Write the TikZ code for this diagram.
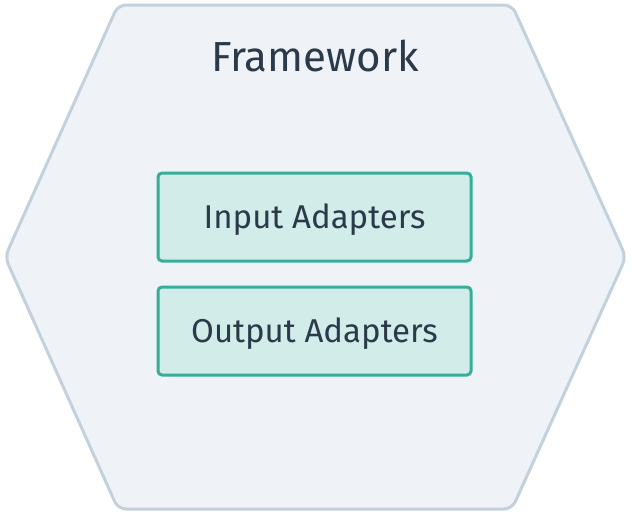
\documentclass[tikz,border=0pt]{standalone}
\usepackage{fontspec}
\setmainfont{Fira Sans}
\definecolor{hexfill}{HTML}{EFF3F7}
\definecolor{hexline}{HTML}{C3D1DC}
\definecolor{boxfill}{HTML}{D1ECE9}
\definecolor{boxline}{HTML}{37AE98}
\definecolor{ink}{HTML}{2B3A4A}
\tikzset{
  hexagon/.style={draw=hexline, fill=hexfill, line width=3pt, rounded corners=8pt, line join=round},
  adapter/.style={draw=boxline, fill=boxfill, line width=3pt, rounded corners=4pt,
    minimum width=313pt, minimum height=88pt, inner sep=0pt, text=ink,
    text height=23pt, text depth=0pt,
    font=\fontsize{33}{38}\selectfont},
  title/.style={text=ink, font=\fontsize{42}{48}\selectfont, inner sep=0pt,
    text height=29pt, text depth=0pt}
}
\begin{document}
\begin{tikzpicture}[x=1pt,y=-1pt]
  \useasboundingbox (0,0) rectangle (632,515);
  % outer framework hexagon
  \draw[hexagon] (118,5) -- (512,5) -- (626,257) -- (512,509) -- (118,509) -- (5,257) -- cycle;
  \node[title] (fw) at (315,57) {Framework};
  \node[adapter] (in) at (314.5,217) {Input Adapters};
  \node[adapter] (out) at (314.5,331) {Output Adapters};
\end{tikzpicture}
\end{document}
